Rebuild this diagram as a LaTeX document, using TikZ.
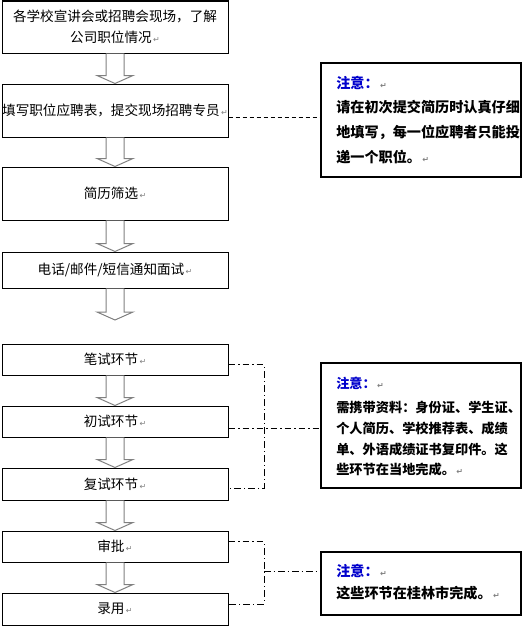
\documentclass[tikz,border=0pt]{standalone}
\usepackage{fontspec}
\setmainfont{Noto Sans CJK SC}
\newfontfamily\symfont{DejaVu Sans}
\usetikzlibrary{calc}
\definecolor{notblue}{RGB}{0,0,204}
\definecolor{arrgray}{RGB}{128,128,128}
\newcommand\pmk{{\symfont\fontsize{6}{6}\selectfont\color{gray}\,↵}}
\newcommand\barrow[2]{\path[blockarr] ($(#1.south)+(-9,0)$) -- ($(#2)+(-9,-8)$) -- ($(#2)+(-18,-8)$) -- (#2) -- ($(#2)+(18,-8)$) -- ($(#2)+(9,-8)$) -- ($(#1.south)+(9,0)$);}
\begin{document}
\begin{tikzpicture}[x=0.75pt,y=-0.75pt,
  box/.style={draw=black, line width=0.75pt, fill=white, inner sep=0pt, minimum width=169.5pt, align=center, font=\fontsize{10.2}{15.75}\selectfont},
  note/.style={draw=black, line width=0.8pt, fill=white, inner sep=0pt, minimum width=150pt},
  ntext/.style={anchor=west, inner sep=0pt, font=\bfseries},
  blockarr/.style={draw=arrgray, line width=0.75pt, fill=white},
  dashln/.style={line width=0.75pt, dash pattern=on 3pt off 2.25pt},
  dotdash/.style={line width=0.75pt, dash pattern=on 5pt off 2.25pt on 1pt off 2.25pt}
]
\useasboundingbox (0,0) rectangle (531,628);
\fill[white] (0,0) rectangle (531,628);

% flow boxes
\node[box, minimum height=39pt]    (b1) at (115,27)    {各学校宣讲会或招聘会现场，了解\\公司职位情况\pmk};
\node[box, minimum height=39.75pt] (b2) at (115,110.5) {\raisebox{-4pt}{填写职位应聘表，提交现场招聘专员\pmk}};
\node[box, minimum height=39.75pt] (b3) at (115,193.5) {简历筛选\pmk};
\node[box, minimum height=27pt]    (b4) at (115,270)   {\raisebox{1.5pt}{电话/邮件/短信通知面试\pmk}};
\coordinate (t4) at (115,320);
\node[box, minimum height=23.25pt] (b5) at (115,359.5) {\raisebox{-2.5pt}{笔试环节\pmk}};
\node[box, minimum height=23.25pt] (b6) at (115,421.5) {\raisebox{-1pt}{初试环节\pmk}};
\node[box, minimum height=24pt]    (b7) at (115,484)   {复试环节\pmk};
\node[box, minimum height=23.25pt] (b8) at (115,546.5) {\raisebox{-1pt}{审批\pmk}};
\node[box, minimum height=24pt]    (b9) at (115,609)   {录用\pmk};

% block arrows
\barrow{b1}{b2.north}
\barrow{b2}{b3.north}
\barrow{b3}{b4.north}
\barrow{b4}{t4}
\barrow{b5}{b6.north}
\barrow{b6}{b7.north}
\barrow{b7}{b8.north}
\barrow{b8}{b9.north}

% note boxes
\node[note, minimum height=85.5pt]  (n1) at (421,120)   {};
\node[note, minimum height=93.75pt] (n2) at (421,425.5) {};
\node[note, minimum height=47.25pt] (n3) at (421,583.5) {};

% note texts
\begin{scope}[ntext/.append style={font=\fontsize{10.6}{12}\selectfont\bfseries}]
\node[ntext] (n1a) at (336,83)  {\color{notblue}注意：\pmk};
\node[ntext] (n1b) at (336,107) {请在初次提交简历时认真仔细};
\node[ntext] (n1c) at (336,132) {地填写，每一位应聘者只能投};
\node[ntext] (n1d) at (336,157) {递一个职位。\pmk};
\end{scope}
\begin{scope}[ntext/.append style={font=\fontsize{9.9}{12}\selectfont\bfseries}]
\node[ntext] (n2a) at (336,383) {\color{notblue}注意：\pmk};
\node[ntext] (n2b) at (336,407) {需携带资料：身份证、学生证、};
\node[ntext] (n2c) at (336,428) {个人简历、学校推荐表、成绩};
\node[ntext] (n2d) at (336,449) {单、外语成绩证书复印件。这};
\node[ntext] (n2e) at (336,469) {些环节在当地完成。\pmk};
\end{scope}
\begin{scope}[ntext/.append style={font=\fontsize{10.6}{12}\selectfont\bfseries}]
\node[ntext] (n3a) at (336,571) {\color{notblue}注意：\pmk};
\node[ntext] (n3b) at (336,593) {这些环节在桂林市完成。\pmk};
\end{scope}

% connectors
\coordinate (c2) at ([yshift=-5.5pt]b2.east);
\draw[dashln] (c2) -- (c2 -| n1.west);

\coordinate (jx) at (264,0);
\coordinate (c5) at ([yshift=-4pt]b5.east);
\coordinate (c6) at ([yshift=-4.9pt]b6.east);
\coordinate (c7) at ([yshift=-3pt]b7.east);
\draw[dotdash] (c5) -- (c5 -| jx) -- (c7 -| jx) -- (c7);
\draw[dotdash] (c6) -- (c6 -| n2.west);

\coordinate (c8) at ([yshift=3.4pt]b8.east);
\coordinate (c9) at ([yshift=3.75pt]b9.east);
\coordinate (jm) at (264,571);
\draw[dotdash] (c8) -- (c8 -| jx) -- (c9 -| jx) -- (c9);
\draw[dotdash] (jm) -- (jm -| n3.west);
\end{tikzpicture}
\end{document}
